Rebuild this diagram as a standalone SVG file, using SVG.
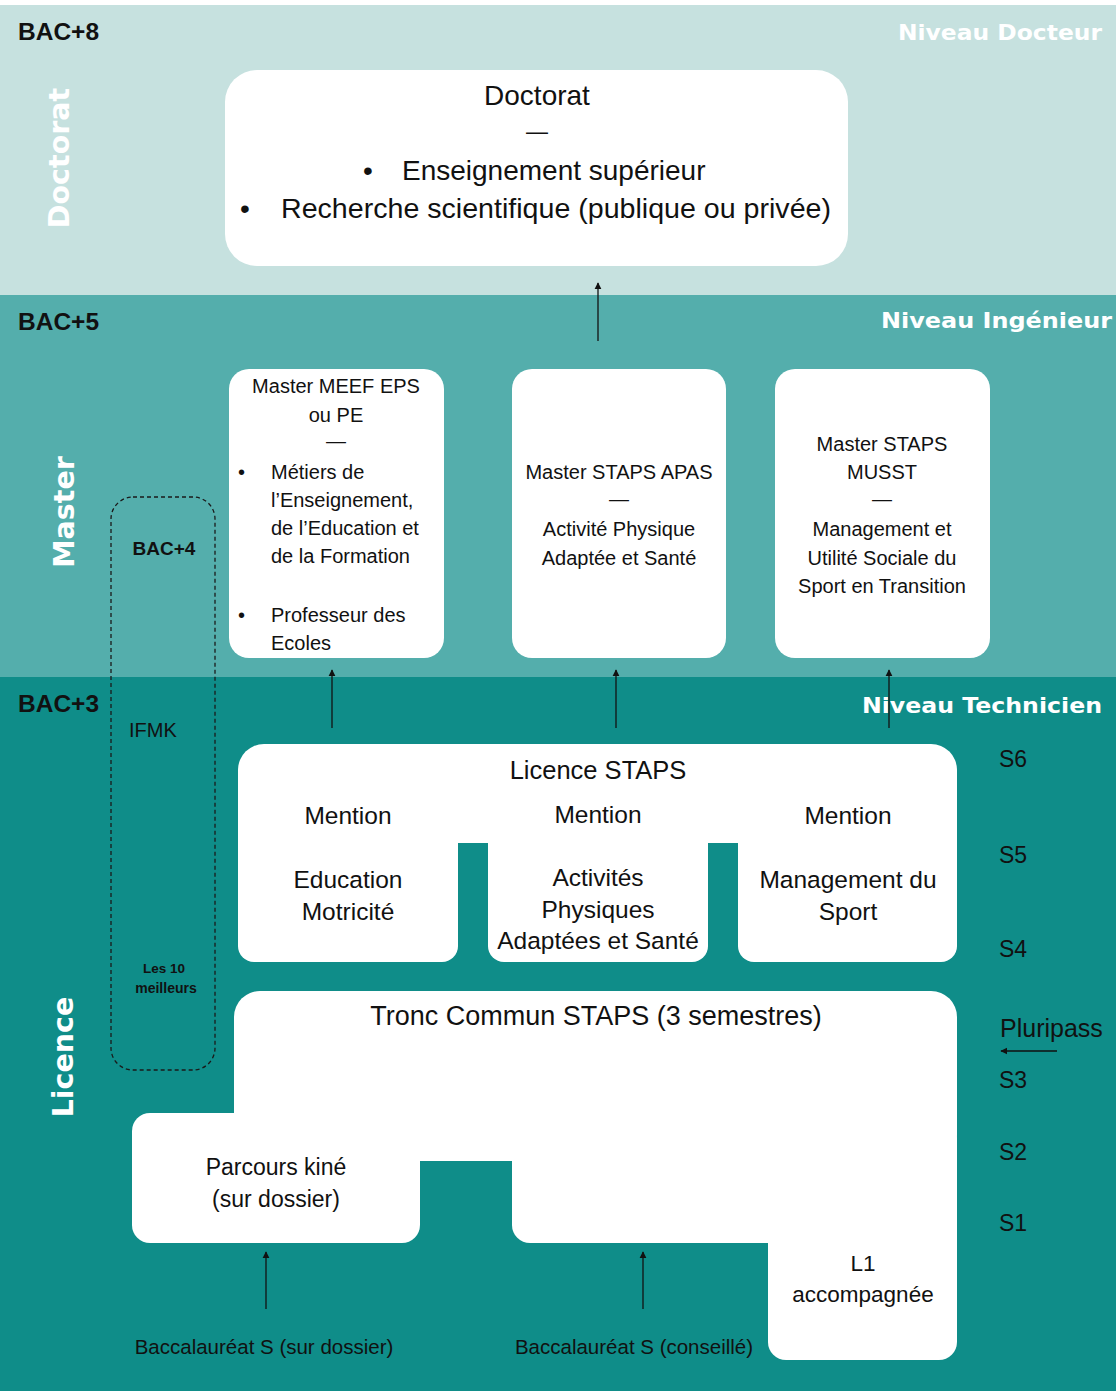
<svg xmlns="http://www.w3.org/2000/svg" width="1116" height="1391" viewBox="0 0 1116 1391">
<defs>
<style>
.t{font-family:"Liberation Sans",Arial,sans-serif;fill:#111}
.c{text-anchor:middle}
.b{font-weight:bold}
.v{font-family:"DejaVu Sans",Verdana,sans-serif;font-weight:bold;fill:#fff;font-size:28.5px;text-anchor:middle}
.n{font-family:"DejaVu Sans",Verdana,sans-serif;font-weight:bold;fill:#fff;font-size:22px;text-anchor:end}
.box{fill:#fff}
.arr{stroke:#111;stroke-width:1.3;fill:none;marker-end:url(#ah)}
</style>
<marker id="ah" viewBox="0 0 10 10" refX="9" refY="5" markerWidth="7" markerHeight="9" markerUnits="userSpaceOnUse" orient="auto">
<path d="M0,0 L10,5 L0,10 z" fill="#111"/>
</marker>
</defs>

<g id="bands">
<rect x="0" y="0" width="1116" height="1391" fill="#fff"/>
<rect x="0" y="5" width="1116" height="290" fill="#C6E1DF"/>
<rect x="0" y="295" width="1116" height="382" fill="#54AEAC"/>
<rect x="0" y="677" width="1116" height="714" fill="#0F8D89"/>
</g>

<g id="level-labels">
<text class="t b" x="18" y="40" font-size="24.5">BAC+8</text>
<text class="t b" x="18" y="330" font-size="24.5">BAC+5</text>
<text class="t b" x="18" y="712" font-size="24.5">BAC+3</text>
<text class="n" x="1102" y="40" textLength="204" lengthAdjust="spacingAndGlyphs">Niveau Docteur</text>
<text class="n" x="1112" y="328" textLength="231" lengthAdjust="spacingAndGlyphs">Niveau Ingénieur</text>
<text class="n" x="1102" y="713" textLength="240" lengthAdjust="spacingAndGlyphs">Niveau Technicien</text>
<text class="v" transform="translate(69,158) rotate(-90)">Doctorat</text>
<text class="v" transform="translate(74,512) rotate(-90)">Master</text>
<text class="v" transform="translate(73,1057) rotate(-90)">Licence</text>
</g>

<g id="semesters" class="t" font-size="23">
<text x="999" y="767">S6</text>
<text x="999" y="863">S5</text>
<text x="999" y="957">S4</text>
<text x="1000" y="1037" font-size="25">Pluripass</text>
<text x="999" y="1088">S3</text>
<text x="999" y="1160">S2</text>
<text x="999" y="1231">S1</text>
</g>

<g id="node-doctorat">
<rect class="box" x="225" y="70" width="623" height="196" rx="32"/>
<text class="t c" x="537" y="105" font-size="28">Doctorat</text>
<text class="t c" x="537" y="139" font-size="22">—</text>
<text class="t" x="363" y="180" font-size="28">•</text>
<text class="t" x="402" y="180" font-size="28">Enseignement supérieur</text>
<text class="t" x="240" y="218" font-size="28">•</text>
<text class="t" x="281" y="218" font-size="28" textLength="550" lengthAdjust="spacingAndGlyphs">Recherche scientifique (publique ou privée)</text>
</g>

<g id="node-master-meef">
<rect class="box" x="229" y="369" width="215" height="289" rx="20"/>
<g class="t" font-size="20">
<text class="c" x="336" y="393">Master MEEF EPS</text>
<text class="c" x="336" y="422">ou PE</text>
<text class="c" x="336" y="448">—</text>
<text x="238" y="479">•</text>
<text x="271" y="479">Métiers de</text>
<text x="271" y="507">l’Enseignement,</text>
<text x="271" y="535">de l’Education et</text>
<text x="271" y="563">de la Formation</text>
<text x="238" y="622">•</text>
<text x="271" y="622">Professeur des</text>
<text x="271" y="650">Ecoles</text>
</g>
</g>

<g id="node-master-apas">
<rect class="box" x="512" y="369" width="214" height="289" rx="20"/>
<g class="t c" font-size="20">
<text x="619" y="479">Master STAPS APAS</text>
<text x="619" y="506">—</text>
<text x="619" y="536">Activité Physique</text>
<text x="619" y="565">Adaptée et Santé</text>
</g>
</g>

<g id="node-master-musst">
<rect class="box" x="775" y="369" width="215" height="289" rx="20"/>
<g class="t c" font-size="20">
<text x="882" y="451">Master STAPS</text>
<text x="882" y="479">MUSST</text>
<text x="882" y="506">—</text>
<text x="882" y="536">Management et</text>
<text x="882" y="565">Utilité Sociale du</text>
<text x="882" y="593">Sport en Transition</text>
</g>
</g>

<g id="node-bac4-ifmk">
<rect x="111" y="497" width="104" height="573" rx="22" fill="none" stroke="#1a1a1a" stroke-width="1.3" stroke-dasharray="4 3"/>
<text class="t b c" x="164" y="555" font-size="19">BAC+4</text>
<text class="t" x="129" y="737" font-size="20">IFMK</text>
<text class="t b c" x="164" y="973" font-size="13.5">Les 10</text>
<text class="t b c" x="166" y="993" font-size="14">meilleurs</text>
</g>

<g id="node-licence-staps">
<rect class="box" x="238" y="744" width="719" height="99" rx="26"/>
<rect class="box" x="238" y="780" width="220" height="182" rx="16"/>
<rect class="box" x="488" y="780" width="220" height="182" rx="16"/>
<rect class="box" x="738" y="780" width="219" height="182" rx="16"/>
<g class="t c" font-size="24.5">
<text x="598" y="779" font-size="25.5">Licence STAPS</text>
<text x="348" y="824">Mention</text>
<text x="598" y="823">Mention</text>
<text x="848" y="824">Mention</text>
<text x="348" y="888">Education</text>
<text x="348" y="920">Motricité</text>
<text x="598" y="886">Activités</text>
<text x="598" y="918">Physiques</text>
<text x="598" y="949">Adaptées et Santé</text>
<text x="848" y="888">Management du</text>
<text x="848" y="920">Sport</text>
</g>
</g>

<g id="node-tronc-commun">
<rect class="box" x="234" y="991" width="723" height="170" rx="26"/>
<rect class="box" x="132" y="1113" width="288" height="130" rx="18"/>
<rect class="box" x="512" y="1120" width="445" height="123" rx="18"/>
<text class="t c" x="596" y="1025" font-size="27">Tronc Commun STAPS (3 semestres)</text>
</g>

<g id="node-parcours-kine">
<text class="t c" x="276" y="1175" font-size="23">Parcours kiné</text>
<text class="t c" x="276" y="1207" font-size="23">(sur dossier)</text>
</g>

<g id="node-l1">
<rect class="box" x="768" y="1180" width="189" height="180" rx="18"/>
<text class="t c" x="863" y="1271" font-size="22.5">L1</text>
<text class="t c" x="863" y="1302" font-size="22.5">accompagnée</text>
</g>

<g id="node-bac-entries" class="t c" font-size="20.5">
<text x="264" y="1354">Baccalauréat S (sur dossier)</text>
<text x="634" y="1354">Baccalauréat S (conseillé)</text>
</g>

<g id="connectors">
<line class="arr" x1="598" y1="341" x2="598" y2="283"/>
<line class="arr" x1="332" y1="728" x2="332" y2="670"/>
<line class="arr" x1="616" y1="728" x2="616" y2="670"/>
<line class="arr" x1="889" y1="728" x2="889" y2="670"/>
<line class="arr" x1="266" y1="1309" x2="266" y2="1252"/>
<line class="arr" x1="643" y1="1309" x2="643" y2="1252"/>
<line class="arr" x1="1057" y1="1051" x2="1001" y2="1051"/>
</g>
</svg>
